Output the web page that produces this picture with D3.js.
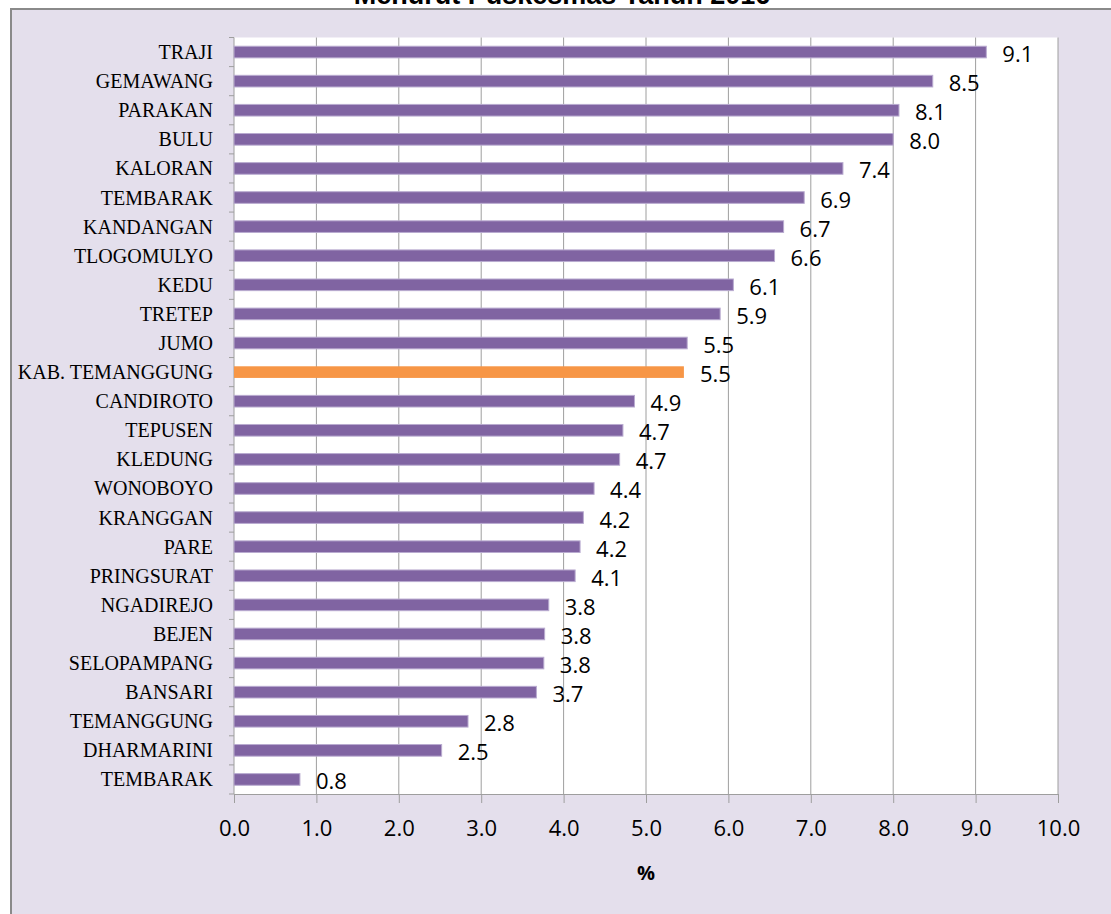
<!DOCTYPE html>
<html>
<head>
<meta charset="utf-8">
<script src="https://cdn.jsdelivr.net/npm/d3@7"></script>
<style>
    body { margin: 0; background: #ffffff; }
    svg { display: block; }
</style>
</head>
<body>
<div id="elements"></div>
<script>

// Data (top to bottom):
var puskesmas = ["TRAJI", "GEMAWANG", "PARAKAN", "BULU", "KALORAN", "TEMBARAK",
    "KANDANGAN", "TLOGOMULYO", "KEDU", "TRETEP", "JUMO", "KAB. TEMANGGUNG",
    "CANDIROTO", "TEPUSEN", "KLEDUNG", "WONOBOYO", "KRANGGAN", "PARE",
    "PRINGSURAT", "NGADIREJO", "BEJEN", "SELOPAMPANG", "BANSARI",
    "TEMANGGUNG", "DHARMARINI", "TEMBARAK"];
var persen = [9.13, 8.48, 8.07, 8.0, 7.39, 6.92, 6.67, 6.56, 6.06, 5.9, 5.5, 5.46,
    4.86, 4.72, 4.68, 4.37, 4.24, 4.2, 4.14, 3.82, 3.77, 3.76, 3.67,
    2.84, 2.52, 0.8];
var kabupaten = "KAB. TEMANGGUNG";
var xTicks = [0, 1, 2, 3, 4, 5, 6, 7, 8, 9, 10];
var judul = "Menurut Puskesmas Tahun 2016";
var xJudul = "%";

var width = 1111,
    height = 914;

var svg = d3.select("#elements").append("svg")
    .attr("width", width)
    .attr("height", height);

// Chart area frame
svg.append("rect")
    .attr("x", 11)
    .attr("y", 9)
    .attr("width", 1200)
    .attr("height", 1000)
    .attr("fill", "#e4dfec")
    .attr("stroke", "#8a8a8a")
    .attr("stroke-width", 2);

// Title (cut off at the top, as in the original)
svg.append("text")
    .attr("x", 562)
    .attr("y", 4)
    .attr("text-anchor", "middle")
    .style("font-family", "'Liberation Sans', Arial, sans-serif")
    .style("font-weight", "bold")
    .style("font-size", "27px")
    .text(judul);

var plot = { left: 234, right: 1058, top: 37.5, bottom: 794 };

var idx = d3.range(puskesmas.length);

var x = d3.scaleLinear()
    .domain([0, 10])
    .range([plot.left, plot.right]);

var y = d3.scaleBand()
    .domain(idx)
    .range([plot.top, plot.bottom])
    .paddingInner(0.6)
    .paddingOuter(0.3);

// Plot background
svg.append("rect")
    .attr("x", plot.left)
    .attr("y", plot.top)
    .attr("width", plot.right - plot.left)
    .attr("height", plot.bottom - plot.top)
    .attr("fill", "#ffffff");

// Vertical gridlines
svg.append("g")
    .selectAll("line")
    .data(xTicks.slice(1))
    .join("line")
    .attr("x1", function (d) { return x(d); })
    .attr("x2", function (d) { return x(d); })
    .attr("y1", plot.top)
    .attr("y2", plot.bottom)
    .attr("stroke", "#9e9e9e")
    .attr("stroke-width", 1);

// X axis
var xAxis = svg.append("g")
    .attr("transform", "translate(0," + plot.bottom + ")")
    .call(d3.axisBottom(x)
        .tickValues(xTicks)
        .tickFormat(d3.format(".1f"))
        .tickSizeInner(9)
        .tickSizeOuter(0)
        .tickPadding(17));

xAxis.select(".domain").attr("stroke", "#9e9e9e");
xAxis.selectAll(".tick line").attr("stroke", "#9e9e9e");
xAxis.selectAll(".tick text")
    .style("font-family", "'Open Sans', sans-serif")
    .style("font-size", "22px")
    .attr("fill", "#000");

// Y axis line and ticks at band boundaries
svg.append("line")
    .attr("x1", plot.left)
    .attr("x2", plot.left)
    .attr("y1", plot.top)
    .attr("y2", plot.bottom)
    .attr("stroke", "#9e9e9e");

var step = (plot.bottom - plot.top) / puskesmas.length;
svg.append("g")
    .selectAll("line")
    .data(d3.range(puskesmas.length + 1))
    .join("line")
    .attr("x1", plot.left - 5)
    .attr("x2", plot.left)
    .attr("y1", function (d) { return plot.top + d * step; })
    .attr("y2", function (d) { return plot.top + d * step; })
    .attr("stroke", "#9e9e9e");

// Category labels
svg.append("g")
    .selectAll("text")
    .data(idx)
    .join("text")
    .attr("x", 213)
    .attr("y", function (d) { return y(d) + y.bandwidth() / 2 + 7; })
    .attr("text-anchor", "end")
    .style("font-family", "'Liberation Serif', 'Times New Roman', serif")
    .style("font-size", "20px")
    .text(function (d) { return puskesmas[d]; });

// Bars
svg.append("g")
    .selectAll("rect")
    .data(idx)
    .join("rect")
    .attr("x", x(0))
    .attr("y", function (d) { return y(d); })
    .attr("width", function (d) { return x(persen[d]) - x(0); })
    .attr("height", y.bandwidth())
    .attr("fill", function (d) {
        return puskesmas[d] == kabupaten ? "#f79646" : "#8064a2";
    })
    .attr("stroke", function (d) {
        return puskesmas[d] == kabupaten ? "none" : "#b9abd0";
    })
    .attr("stroke-width", 1);

// Value labels
svg.append("g")
    .selectAll("text")
    .data(idx)
    .join("text")
    .attr("x", function (d) { return x(persen[d]) + 16; })
    .attr("y", function (d) { return y(d) + y.bandwidth() / 2 + 10; })
    .style("font-family", "'Open Sans', sans-serif")
    .style("font-size", "22px")
    .text(function (d) { return persen[d].toFixed(1); });

// Axis title
svg.append("text")
    .attr("x", (plot.left + plot.right) / 2)
    .attr("y", 880)
    .attr("text-anchor", "middle")
    .style("font-family", "'Open Sans', sans-serif")
    .style("font-weight", "bold")
    .style("font-size", "20px")
    .text(xJudul);

</script>
</body>
</html>
